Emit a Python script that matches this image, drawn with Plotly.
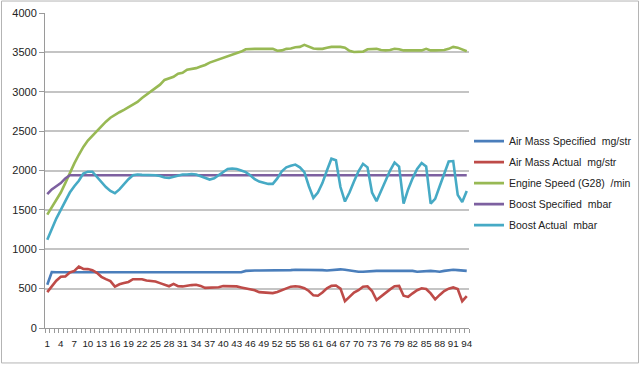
import plotly.graph_objects as go

categories = list(range(1, 95))
x_tick_values = list(range(1, 95, 3))
x_tick_labels = [str(v) for v in x_tick_values]

air_mass_specified = [550, 710] + [708] * 42 + [
    725, 730, 730, 730, 730, 730, 732, 732, 735, 735, 735, 740, 740, 740, 740, 738, 736, 735,
    730, 735, 740, 745, 740, 730, 720, 715, 715, 720, 725, 725, 725, 725, 725, 725, 725, 725,
    725, 725, 715, 720, 725, 725, 720, 715, 725, 730, 740, 735, 728, 725]

air_mass_actual = [
    455, 530, 600, 650, 655, 705, 725, 780, 750, 748, 735, 700, 650, 620, 595, 525, 555, 570,
    585, 620, 622, 620, 603, 600, 590, 570, 545, 530, 560, 530, 528, 540, 545, 550, 535, 510,
    512, 515, 518, 532, 530, 534, 528, 515, 505, 495, 480, 455, 450, 445, 443, 458, 483, 505,
    525, 530, 525, 505, 470, 415, 410, 450, 505, 535, 540, 500, 340, 395, 450, 480, 525, 530,
    470, 356, 400, 455, 490, 530, 535, 410, 395, 440, 480, 505, 495, 440, 364, 420, 470, 500,
    515, 495, 340, 405]

engine_speed = [
    1440, 1530, 1620, 1720, 1840, 1970, 2090, 2200, 2300, 2380, 2440, 2510, 2570, 2620, 2670,
    2710, 2740, 2770, 2800, 2830, 2870, 2920, 2960, 3010, 3040, 3090, 3150, 3170, 3190, 3230,
    3240, 3280, 3290, 3300, 3320, 3340, 3370, 3390, 3410, 3430, 3450, 3470, 3490, 3510, 3540,
    3545, 3545, 3545, 3545, 3545, 3545, 3520, 3525, 3545, 3550, 3565, 3570, 3595, 3570, 3550,
    3545, 3545, 3560, 3570, 3570, 3570, 3560, 3520, 3505, 3505, 3510, 3540, 3545, 3545, 3530,
    3525, 3530, 3545, 3540, 3525, 3525, 3525, 3525, 3525, 3545, 3525, 3525, 3525, 3530, 3545,
    3570, 3560, 3540, 3515]

boost_specified = [1700, 1760, 1800, 1840, 1900] + [1940] * 89

boost_actual = [
    1120, 1260, 1390, 1500, 1620, 1720, 1800, 1870, 1960, 1985, 1985, 1920, 1850, 1790, 1740,
    1712, 1760, 1830, 1890, 1940, 1950, 1945, 1945, 1940, 1940, 1930, 1910, 1905, 1920, 1940,
    1950, 1950, 1955, 1950, 1930, 1905, 1885, 1900, 1940, 1990, 2020, 2025, 2020, 2000, 1980,
    1940, 1890, 1860, 1840, 1830, 1830, 1900, 1990, 2040, 2060, 2075, 2040, 1980, 1800, 1652,
    1720, 1840, 2000, 2150, 2130, 1790, 1606, 1720, 1860, 1990, 2085, 2040, 1720, 1610, 1740,
    1880, 2000, 2100, 2050, 1580, 1760, 1900, 2020, 2095, 2050, 1580, 1640, 1800, 1960, 2115,
    2120, 1690, 1600, 1740]

series_names = [
    "Air Mass Specified\u00a0 mg/str",
    "Air Mass Actual\u00a0 mg/str",
    "Engine Speed (G28)\u00a0 /min",
    "Boost Specified\u00a0 mbar",
    "Boost Actual\u00a0 mbar",
]
series_values = [air_mass_specified, air_mass_actual, engine_speed, boost_specified, boost_actual]
series_colors = ["#4A7EBB", "#BE4B48", "#98B954", "#7D60A0", "#46AAC5"]

fig = go.Figure()
for k, (name, vals, col) in enumerate(zip(series_names, series_values, series_colors)):
    fig.add_trace(go.Scatter(x=categories, y=vals, mode="lines", name=name,
                             legendgroup=f"g{k}",
                             line=dict(color=col, width=2.6)))
# invisible trace carrying the label axis
fig.add_trace(go.Scatter(x=categories, y=[None] * len(categories), xaxis="x2",
                         showlegend=False, hoverinfo="skip", mode="lines"))

font_family = "Liberation Sans, Arial, sans-serif"
axis_grey = "#9a9a9a"
fig.update_layout(
    width=640, height=366,
    margin=dict(l=45, r=171, t=13, b=38, autoexpand=False),
    paper_bgcolor="white", plot_bgcolor="white",
    font=dict(family=font_family, size=11, color="#222222"),
    showlegend=True,
    legend=dict(x=1.0, xanchor="left", y=0.46, yanchor="middle",
                font=dict(size=10.5, color="#222222"), itemwidth=30, tracegroupgap=2,
                bgcolor="rgba(0,0,0,0)"),
    xaxis=dict(range=[0.5, 94.5], tickmode="linear", tick0=0.5, dtick=1,
               showticklabels=False, automargin=False,
               ticks="outside", ticklen=4, tickcolor=axis_grey,
               showgrid=False, showline=True, linecolor=axis_grey, linewidth=1),
    xaxis2=dict(range=[0.5, 94.5], overlaying="x", side="bottom", anchor="y",
                tickmode="array", tickvals=x_tick_values, ticktext=x_tick_labels,
                tickangle=0, ticks="", showgrid=False, showline=False, automargin=False,
                ticklabelstandoff=8, tickfont=dict(size=9.8)),
    yaxis=dict(range=[0, 4000], tickmode="linear", tick0=0, dtick=500, automargin=False,
               showgrid=True, gridcolor="#c4c4c4", gridwidth=1.5,
               showline=True, linecolor=axis_grey, linewidth=1,
               ticks="outside", ticklen=5, tickcolor=axis_grey,
               zeroline=False, tickfont=dict(size=11)),
    shapes=[dict(type="rect", xref="paper", yref="paper",
                 x0=-0.1026, x1=1.3998, y0=-0.111, y1=1.038,
                 line=dict(color="#b4b4b4", width=1), fillcolor="rgba(0,0,0,0)",
                 layer="below")],
)

fig.write_html("out.html", config={"displayModeBar": False},
               post_script="document.body.style.margin='0';document.body.style.overflow='hidden';")
